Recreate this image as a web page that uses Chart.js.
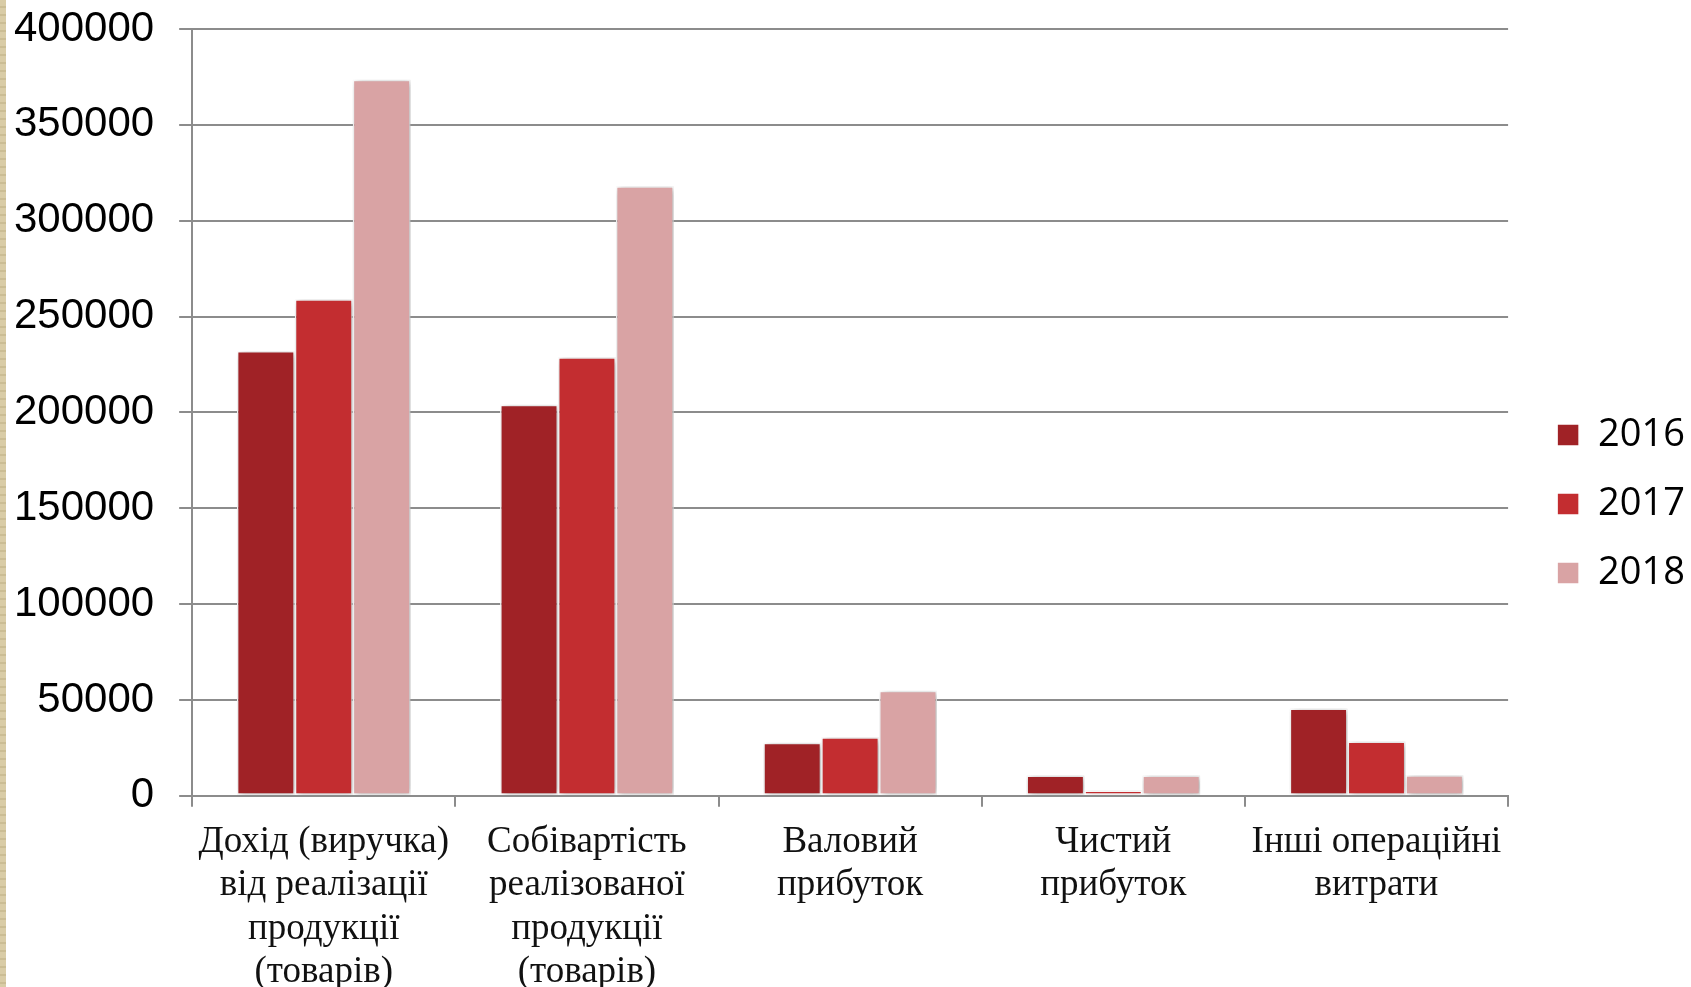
<!DOCTYPE html>
<html>
<head>
<meta charset="utf-8">
<script src="https://cdn.jsdelivr.net/npm/chart.js@4"></script>
<style>
    body { margin: 0; background: #fff; }
    #wrap { position: relative; width: 1691px; height: 987px; }
    #strip { position: absolute; left: 0; top: 0; width: 6px; height: 987px;
             background: repeating-linear-gradient(180deg, #d9cca6 0 6px, #cbbd94 6px 8px); }
    canvas { position: absolute; left: 0; top: 0; }
</style>
</head>
<body>
<div id="wrap">
    <canvas id="chart" width="1691" height="987"></canvas>
    <div id="strip"></div>
</div>
<script>
// ==========================
// DATOS
// ==========================

const categorias = [
    ["Дохід (виручка)", "від реалізації", "продукції", "(товарів)"],
    ["Собівартість", "реалізованої", "продукції", "(товарів)"],
    ["Валовий", "прибуток"],
    ["Чистий", "прибуток"],
    ["Інші операційні", "витрати"]
];

const anios = ["2016", "2017", "2018"];

const valores2016 = [232000, 204000, 27700, 10600, 45500];
const valores2017 = [259000, 228800, 30500, 2800, 28300];
const valores2018 = [373500, 318000, 54800, 10600, 10800];

const colores = ["#a02226", "#c32d30", "#d9a3a4"];

const ticksY = [0, 50000, 100000, 150000, 200000, 250000, 300000, 350000, 400000];


// ==========================
// SOMBRA BARRAS
// ==========================

const sombraBarras = {
    id: "sombraBarras",
    beforeDatasetsDraw(chart) {
        const ctx = chart.ctx;
        ctx.save();
        ctx.shadowColor = "rgba(0,0,0,0.35)";
        ctx.shadowBlur = 7;
        ctx.shadowOffsetX = 2;
        ctx.shadowOffsetY = 1;
    },
    afterDatasetsDraw(chart) {
        chart.ctx.restore();
    }
};


// ==========================
// GRAFICO
// ==========================

const canvas = document.getElementById("chart");

new Chart(canvas, {

    type: "bar",

    data: {
        labels: categorias,
        datasets: [valores2016, valores2017, valores2018].map((serie, i) => ({
            label: anios[i],
            data: serie,
            backgroundColor: colores[i],
            borderColor: "#ffffff",
            borderWidth: 1.5,
            borderSkipped: false,
            barPercentage: 1.0,
            categoryPercentage: 0.66
        }))
    },

    options: {
        responsive: false,
        animation: false,
        layout: {
            padding: { left: -11, top: 0, right: -4, bottom: -21 }
        },
        plugins: {
            legend: {
                position: "right",
                labels: {
                    boxWidth: 22,
                    boxHeight: 22,
                    padding: 31,
                    color: "#000",
                    font: { family: "'Open Sans'", size: 38 }
                }
            },
            tooltip: { enabled: false }
        },
        scales: {
            x: {
                grid: {
                    offset: true,
                    drawOnChartArea: false,
                    drawTicks: true,
                    tickLength: 11,
                    color: "#8c8c8c",
                    lineWidth: 2
                },
                border: { color: "#8c8c8c", width: 2 },
                ticks: {
                    color: "#111",
                    padding: 14,
                    maxRotation: 0,
                    autoSkip: false,
                    font: { family: "'Liberation Serif'", size: 37, lineHeight: 1.17 }
                }
            },
            y: {
                min: 0,
                max: 400000,
                afterBuildTicks(axis) {
                    axis.ticks = ticksY.map(v => ({ value: v }));
                },
                grid: {
                    color: "#8c8c8c",
                    lineWidth: 2,
                    tickLength: 13
                },
                border: { color: "#8c8c8c", width: 2 },
                ticks: {
                    color: "#000",
                    padding: 25,
                    font: { family: "'Liberation Sans'", size: 42, lineHeight: 0.19 },
                    callback: v => String(v)
                }
            },
            hueco: {
                position: "right",
                grid: { display: false, drawTicks: false },
                border: { display: false },
                ticks: { display: false },
                afterFit(scale) {
                    scale.width = 18;
                }
            }
        }
    },

    plugins: [sombraBarras]

});
</script>
</body>
</html>
